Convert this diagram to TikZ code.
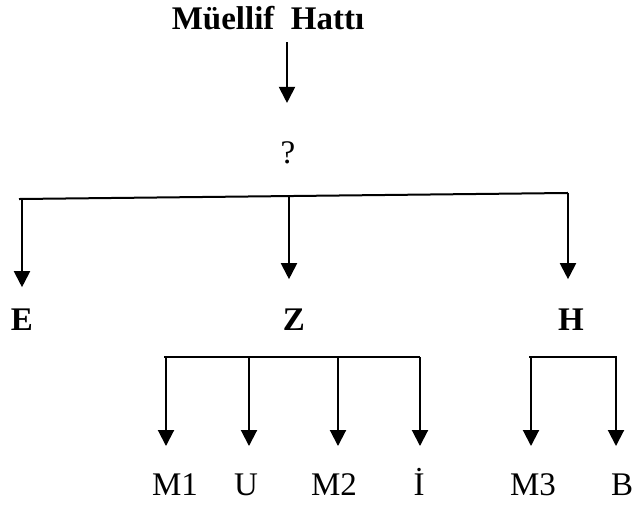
\documentclass[tikz,border=0pt]{standalone}
\usepackage{fontspec}
\setmainfont{Liberation Serif}
\usetikzlibrary{arrows.meta}
\tikzset{
  lbl/.style={inner sep=0pt, anchor=base, font=\fontsize{33}{39}\selectfont},
  blbl/.style={lbl, font=\fontsize{33}{39}\selectfont\bfseries},
  arr/.style={line width=2pt, -{Triangle[length=16pt,width=16pt]}},
  bar/.style={line width=2pt, line cap=rect},
}
\begin{document}
\begin{tikzpicture}[x=1pt,y=-1pt]
\useasboundingbox (0,0) rectangle (635,506);
% nodes
\node[blbl] (title) at (268,29) {Müellif\ \ Hattı};
\node[lbl] (q) at (288,163) {?};
\node[blbl] (E) at (22,330) {E};
\node[blbl] (Z) at (294,330) {Z};
\node[blbl] (H) at (571,330) {H};
\node[lbl] (M1) at (175,495) {M1};
\node[lbl] (U) at (246,495) {U};
\node[lbl] (M2) at (334,495) {M2};
\node[lbl] (I) at (419,495) {İ};
\node[lbl] (M3) at (533,495) {M3};
\node[lbl] (B) at (622,495) {B};
% junction coordinates
\coordinate (t0) at (287,42);
\coordinate (bL) at (20,199);
\coordinate (bLa) at (22,199);
\coordinate (bM) at (289,196);
\coordinate (bR) at (567,193);
\coordinate (bRa) at (568,193);
\coordinate (s1) at (165,357);
\coordinate (s1a) at (166,357);
\coordinate (s2) at (249,357);
\coordinate (s3) at (338,357);
\coordinate (s4) at (419,357);
\coordinate (s4a) at (420,357);
\coordinate (r1) at (530,357);
\coordinate (r1a) at (531,357);
\coordinate (r2) at (616,357);
% top arrow
\draw[arr, shorten >=38pt] (t0) -- (t0 |- q.north);
% first level bar
\draw[bar] (bL) -- (bR);
\draw[arr, shorten >=21pt] (bLa) -- (bLa |- E.north);
\draw[arr, shorten >=29pt] (bM) -- (bM |- Z.north);
\draw[arr, shorten >=29pt] (bRa) -- (bRa |- H.north);
% second level bars
\draw[bar] (s1) -- (s4);
\draw[bar] (r1) -- (r2);
\draw[arr, shorten >=27pt] (s1a) -- (s1a |- M1.north);
\draw[arr, shorten >=27pt] (s2) -- (s2 |- M1.north);
\draw[arr, shorten >=27pt] (s3) -- (s3 |- M1.north);
\draw[arr, shorten >=27pt] (s4a) -- (s4a |- M1.north);
\draw[arr, shorten >=27pt] (r1a) -- (r1a |- M1.north);
\draw[arr, shorten >=27pt] (r2) -- (r2 |- M1.north);
\end{tikzpicture}
\end{document}
